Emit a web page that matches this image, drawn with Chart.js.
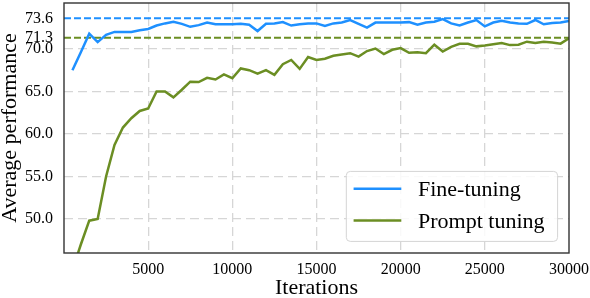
<!DOCTYPE html>
<html>
<head>
<meta charset="utf-8">
<script src="https://cdn.jsdelivr.net/npm/chart.js@4/dist/chart.umd.min.js"></script>
<style>
  html, body { margin: 0; padding: 0; background: #fff; }
  #wrap { width: 590px; height: 298px; }
</style>
</head>
<body>
<div id="wrap"><canvas id="chart" width="590" height="298"></canvas></div>
<script>
// iteraciones cada 500
const iterations = [
  500, 1000, 1500, 2000, 2500, 3000, 3500, 4000, 4500, 5000,
  5500, 6000, 6500, 7000, 7500, 8000, 8500, 9000, 9500, 10000,
  10500, 11000, 11500, 12000, 12500, 13000, 13500, 14000, 14500, 15000,
  15500, 16000, 16500, 17000, 17500, 18000, 18500, 19000, 19500, 20000,
  20500, 21000, 21500, 22000, 22500, 23000, 23500, 24000, 24500, 25000,
  25500, 26000, 26500, 27000, 27500, 28000, 28500, 29000, 29500, 30000
];
const fineTuning = [
  67.5, 69.6, 71.8, 70.8, 71.65, 72.0, 72.0, 72.0, 72.2, 72.35,
  72.75, 73.0, 73.2, 72.95, 72.6, 72.8, 73.1, 72.9, 72.9, 72.9,
  72.95, 72.85, 72.1, 72.95, 73.0, 73.15, 72.75, 72.9, 73.0, 73.0,
  72.7, 73.0, 73.1, 73.4, 72.95, 72.5, 73.1, 73.1, 73.1, 73.1,
  73.15, 72.85, 73.1, 73.2, 73.5, 73.0, 72.75, 73.1, 73.4, 72.65,
  73.1, 73.3, 73.1, 73.0, 72.95, 73.4, 72.9, 73.05, 73.1, 73.3
];
const promptTuning = [
  44.0, 47.0, 49.8, 50.0, 55.0, 58.7, 60.75, 61.85, 62.7, 63.0,
  65.0, 65.0, 64.3, 65.2, 66.15, 66.1, 66.6, 66.4, 67.0, 66.55,
  67.7, 67.5, 67.1, 67.5, 66.95, 68.2, 68.7, 67.65, 69.05, 68.7,
  68.85, 69.2, 69.35, 69.5, 69.1, 69.75, 70.05, 69.4, 69.9, 70.1,
  69.55, 69.6, 69.5, 70.5, 69.7, 70.25, 70.6, 70.6, 70.3, 70.4,
  70.55, 70.7, 70.45, 70.5, 70.85, 70.7, 70.85, 70.75, 70.62, 71.25
];
const bestFine = 73.6;
const bestPrompt = 71.3;
const yTicks = [50, 55, 60, 65, 70, bestPrompt, bestFine];
const gridValues = [50, 55, 60, 65, 70];
const xRange = [0, 30000];

const blue = '#1e90ff';
const green = '#6b8e23';
const serif = "'Liberation Serif', 'Times New Roman', serif";

const toPoints = (ys) => iterations.map((x, i) => ({ x, y: ys[i] }));
const flat = (v) => xRange.map((x) => ({ x, y: v }));

// marco completo del área (4 lados)
const framePlugin = {
  id: 'frame',
  afterDatasetsDraw(chart) {
    const { ctx, chartArea: a } = chart;
    ctx.save();
    ctx.strokeStyle = '#333';
    ctx.lineWidth = 1.4;
    ctx.strokeRect(a.left, a.top, a.right - a.left, a.bottom - a.top);
    ctx.restore();
  },
};

// leyenda dentro del gráfico, abajo a la derecha
const legendPlugin = {
  id: 'boxLegend',
  afterDraw(chart) {
    const { ctx, chartArea: a } = chart;
    const ds = chart.data.datasets.slice(0, 2);
    const x0 = a.right - 222.7, y0 = a.bottom - 81.6, w = 211.3, h = 70;
    ctx.save();
    ctx.beginPath();
    ctx.roundRect(x0, y0, w, h, 4);
    ctx.fillStyle = 'rgba(255,255,255,0.85)';
    ctx.fill();
    ctx.strokeStyle = '#d4d4d4';
    ctx.lineWidth = 1;
    ctx.stroke();
    ds.forEach((d, i) => {
      const y = y0 + 17.3 + i * 31.7;
      ctx.beginPath();
      ctx.moveTo(x0 + 7.3, y);
      ctx.lineTo(x0 + 55, y);
      ctx.strokeStyle = d.borderColor;
      ctx.lineWidth = 2.5;
      ctx.stroke();
      ctx.fillStyle = '#000';
      ctx.font = `22px ${serif}`;
      ctx.textBaseline = 'alphabetic';
      ctx.fillText(d.label, x0 + 71.7, y + 7.5);
    });
    ctx.restore();
  },
};

new Chart(document.getElementById('chart'), {
  type: 'line',
  data: {
    datasets: [
      { label: 'Fine-tuning', data: toPoints(fineTuning), borderColor: blue, borderWidth: 2.5, pointRadius: 0, tension: 0, clip: 0 },
      { label: 'Prompt tuning', data: toPoints(promptTuning), borderColor: green, borderWidth: 2.5, pointRadius: 0, tension: 0, clip: 0 },
      { label: 'best-fine', data: flat(bestFine), borderColor: blue, borderWidth: 2, borderDash: [7, 3], pointRadius: 0, clip: 0 },
      { label: 'best-prompt', data: flat(bestPrompt), borderColor: green, borderWidth: 2, borderDash: [7, 3], pointRadius: 0, clip: 0 },
    ],
  },
  options: {
    responsive: false,
    animation: false,
    layout: { padding: { left: 0, right: 21, top: 3, bottom: 0 } },
    plugins: { legend: { display: false }, tooltip: { enabled: false } },
    scales: {
      x: {
        type: 'linear', min: xRange[0], max: xRange[1],
        afterFit: (s) => { s.height = 45; s.paddingLeft = 0; s.paddingRight = 0; },
        ticks: {
          stepSize: 5000, padding: 7, color: '#000', maxRotation: 0,
          font: { family: serif, size: 16 },
          callback: (v) => (v === 0 ? '' : String(v)),
        },
        grid: {
          drawTicks: false, lineWidth: 1.3,
          color: (c) => (c.tick && c.tick.value > 0 && c.tick.value < 30000 ? '#d6d6d6' : 'transparent'),
        },
        border: { display: false, dash: [9, 5] },
        title: { display: true, text: 'Iterations', color: '#000', font: { family: serif, size: 22 }, padding: { top: 0, bottom: -3 } },
      },
      y: {
        min: 46, max: 75.4,
        afterFit: (s) => { s.width = 64; s.paddingTop = 0; s.paddingBottom = 0; },
        afterBuildTicks: (s) => { s.ticks = yTicks.map((v) => ({ value: v })); },
        ticks: {
          autoSkip: false, padding: 11, color: '#000',
          font: { family: serif, size: 16 },
          callback: (v) => Number(v).toFixed(1),
        },
        grid: {
          drawTicks: false, lineWidth: 1.3,
          color: (c) => (c.tick && gridValues.includes(c.tick.value) ? '#d6d6d6' : 'transparent'),
        },
        border: { display: false, dash: [9, 5] },
        title: { display: true, text: 'Average performance', color: '#000', font: { family: serif, size: 22 }, padding: { top: -3, bottom: 0 } },
      },
    },
  },
  plugins: [framePlugin, legendPlugin],
});
</script>
</body>
</html>
